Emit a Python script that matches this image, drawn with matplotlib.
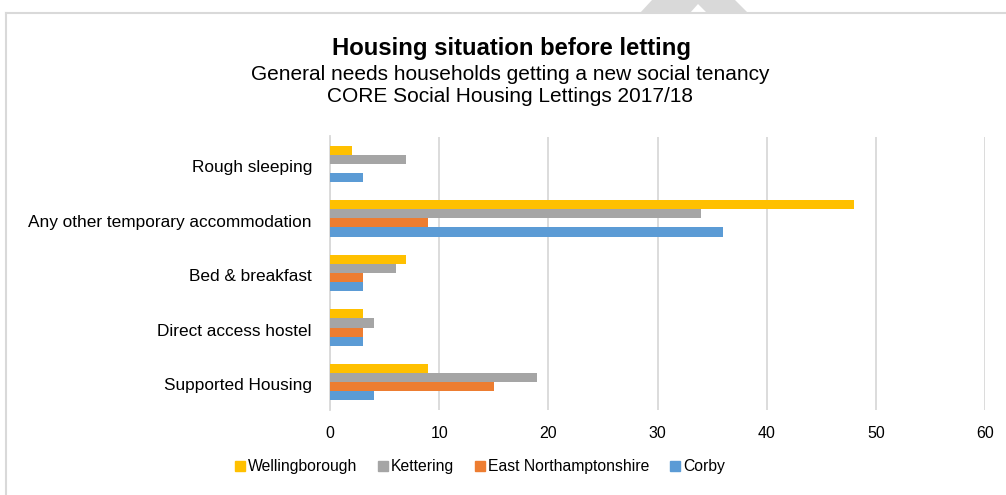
import numpy as np
import matplotlib
matplotlib.use("Agg")
import matplotlib.pyplot as plt
from matplotlib.patches import Polygon
from matplotlib.lines import Line2D

plt.rcParams['font.family'] = ['Liberation Sans', 'DejaVu Sans']

# Données : nombre de ménages par situation avant la location
categories = ["Rough sleeping", "Any other temporary accommodation", "Bed & breakfast",
              "Direct access hostel", "Supported Housing"]
series_names = ["Wellingborough", "Kettering", "East Northamptonshire", "Corby"]
wellingborough = [2, 48, 7, 3, 9]
kettering = [7, 34, 6, 4, 19]
east_northants = [0, 9, 3, 3, 15]
corby = [3, 36, 3, 3, 4]
colors = ["#FFC000", "#A5A5A5", "#ED7D31", "#5B9BD5"]
xticks = [0, 10, 20, 30, 40, 50, 60]

fig = plt.figure(figsize=(10.06, 4.95), dpi=100)
ax = fig.add_axes([330 / 1006, 1 - 409.5 / 495, 655 / 1006, 273 / 495])

# Barres groupées (du haut vers le bas : Wellingborough ... Corby)
bar_h = 1 / 6
y = np.arange(len(categories))
all_series = [wellingborough, kettering, east_northants, corby]
for i, (vals, col, name) in enumerate(zip(all_series, colors, series_names)):
    offset = (i - 1.5) * bar_h
    ax.barh(y + offset, vals, height=bar_h, color=col, label=name, zorder=3)

ax.set_ylim(len(categories) - 0.5, -0.5)
ax.set_xlim(0, 60)
ax.set_xticks(xticks)
ax.set_yticks(y + 0.04)
ax.set_yticklabels(categories, fontsize=12.4)
ax.tick_params(axis='x', labelsize=11.5, length=0, pad=12)
ax.tick_params(axis='y', length=0, pad=13)
ax.grid(axis='x', color='#D9D9D9', linewidth=1.3, zorder=0)
for s in ["top", "right", "bottom"]:
    ax.spines[s].set_visible(False)
ax.spines["left"].set_color('#D9D9D9')
ax.spines["left"].set_linewidth(1.3)

# Titres
fig.text(511 / 1006, 1 - 48 / 495, "Housing situation before letting", ha='center', va='center',
         fontsize=17.2, fontweight='bold')
fig.text(510 / 1006, 1 - 74 / 495, "General needs households getting a new social tenancy",
         ha='center', va='center', fontsize=15)
fig.text(510 / 1006, 1 - 97 / 495, "CORE Social Housing Lettings 2017/18",
         ha='center', va='center', fontsize=15)

# Légende
handles = [Line2D([], [], marker='s', linestyle='', color=c, markersize=7) for c in colors]
fig.legend(handles, series_names, loc='center', bbox_to_anchor=(479 / 1006, 1 - 467 / 495),
           ncol=4, frameon=False, fontsize=11.3, handletextpad=0.05, columnspacing=1.2,
           handlelength=0.9)

# Cadre (haut et gauche) et forme grise en haut
fig.add_artist(Line2D([6 / 1006, 6 / 1006], [0, 1 - 13 / 495], color='#D9D9D9', linewidth=1.5,
                      transform=fig.transFigure))
fig.add_artist(Line2D([6 / 1006, 1], [1 - 13 / 495, 1 - 13 / 495], color='#D9D9D9', linewidth=1.5,
                      transform=fig.transFigure))
pts = [(652, 0), (735, 0), (748, 13), (707, 13), (698, 4), (690, 13), (640, 13)]
fig.add_artist(Polygon([(px / 1006, 1 - py / 495) for px, py in pts], closed=True,
                       facecolor='#D9D9D9', edgecolor='none', transform=fig.transFigure))

fig.savefig("out.png", dpi=100)
